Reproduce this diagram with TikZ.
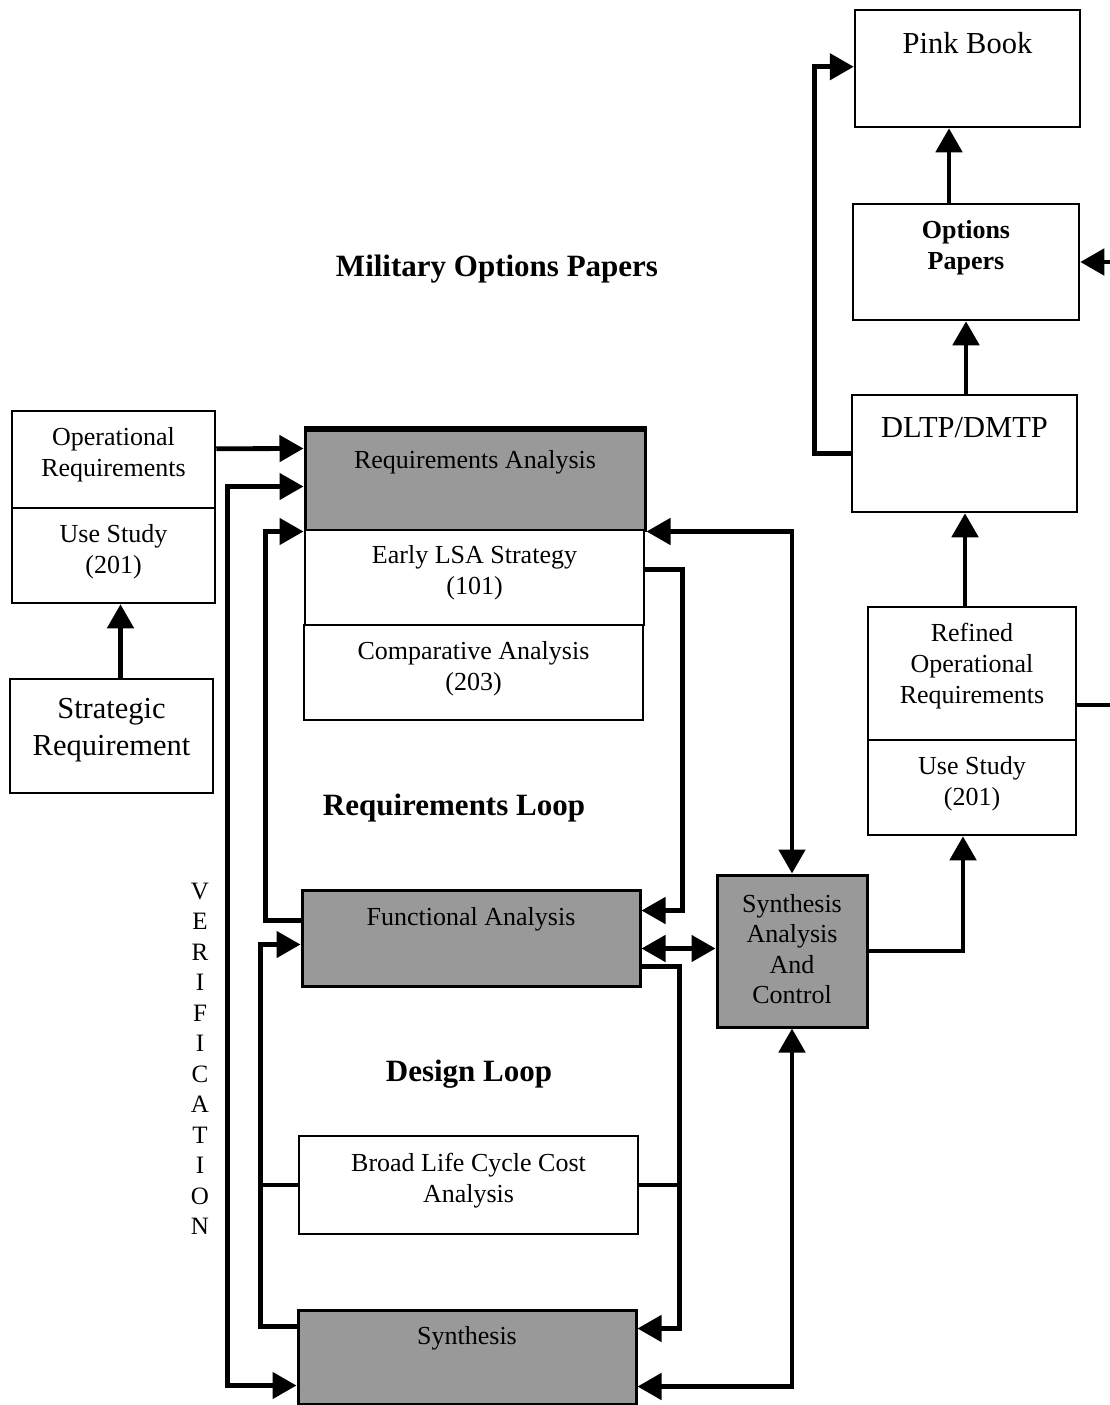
\documentclass[tikz,border=0pt]{standalone}
\usepackage{fontspec}
\setmainfont{Liberation Serif}
\usetikzlibrary{arrows.meta,calc}
\begin{document}
\begin{tikzpicture}[x=1pt,y=-1pt,
  box/.style={draw, line width=2.5pt, inner sep=0pt, fill=white},
  grayb/.style={draw, line width=3pt, inner sep=0pt, fill=black!40},
  conn/.style={line width=4.8pt, line join=miter},
  tip/.tip={Triangle[length=24pt,width=26pt]},
  arr/.style={conn, -tip},
  dbl/.style={conn, tip-tip},
  txt/.style={align=center, inner sep=0pt, font=\fontsize{26}{31}\selectfont},
  txtb/.style={align=center, inner sep=0pt, font=\bfseries\fontsize{26}{31}\selectfont},
  big/.style={align=center, inner sep=0pt, font=\fontsize{30.5}{37}\selectfont},
  bigb/.style={align=center, inner sep=0pt, font=\bfseries\fontsize{31}{37}\selectfont},
  ver/.style={align=center, inner sep=0pt, font=\fontsize{25}{30.5}\selectfont}
]
\useasboundingbox (0,0) rectangle (1110,1405);

% right column
\node[box, minimum width=225pt, minimum height=117pt] (pink) at (967.5,68.5) {};
\node[big] (pinkt) at (967.5,43) {Pink Book};
\node[box, minimum width=226pt, minimum height=116pt] (opt) at (966,262) {};
\node[txtb] (optt) at (966,248) {Options\\Papers};
\node[box, minimum width=225pt, minimum height=117pt] (dltp) at (964.5,453.5) {};
\node[big] (dltpt) at (964.5,428) {DLTP/DMTP};
\node[box, minimum width=208pt, minimum height=133pt] (ref) at (972,673.5) {};
\node[txt] (reft) at (972,666) {Refined\\Operational\\Requirements};
\node[box, minimum width=208pt, minimum height=95pt] (refu) at (972,787.5) {};
\node[txt] (refut) at (972,784) {Use Study\\(201)};

% left column
\node[box, minimum width=203pt, minimum height=97pt] (opr) at (113.5,459.5) {};
\node[txt] (oprt) at (113.5,455) {Operational\\Requirements};
\node[box, minimum width=203pt, minimum height=95pt] (opu) at (113.5,555.5) {};
\node[txt] (oput) at (113.5,552) {Use Study\\(201)};
\node[box, minimum width=203pt, minimum height=114pt] (strat) at (111.5,736) {};
\node[big] (stratt) at (111.5,730) {Strategic\\Requirement};

% centre column
\node[grayb, minimum width=340pt, minimum height=100pt] (reqa) at (475,480) {};
\draw[line width=5pt] (reqa.north west) -- (reqa.north east);
\node[txt] (reqat) at (475,462) {Requirements Analysis};
\node[box, minimum width=339pt, minimum height=95pt] (lsa) at (474.5,577.5) {};
\node[txt] (lsat) at (474.5,573) {Early LSA Strategy\\(101)};
\node[box, minimum width=339pt, minimum height=95pt] (comp) at (473.5,672.5) {};
\node[txt] (compt) at (473.5,669) {Comparative Analysis\\(203)};

\node[grayb, minimum width=338pt, minimum height=96pt] (fa) at (471,938) {};
\node[txt] (fat) at (471,919) {Functional Analysis};
\node[grayb, minimum width=150pt, minimum height=152pt] (sac) at (792,951) {};
\node[align=center, inner sep=0pt, font=\fontsize{26}{30.5}\selectfont] (sact) at (792,949) {Synthesis\\Analysis\\And\\Control};
\node[box, minimum width=339pt, minimum height=98pt] (blcc) at (468.5,1185) {};
\node[txt] (blcct) at (468.5,1181) {Broad Life Cycle Cost\\Analysis};
\node[grayb, minimum width=338pt, minimum height=94pt] (syn) at (467,1357) {};
\node[txt] (synt) at (467,1338) {Synthesis};

% free labels
\node[bigb] (mil) at (497,269) {Military Options Papers};
\node[bigb] (rloop) at (454,808) {Requirements Loop};
\node[bigb] (dloop) at (469,1074) {Design Loop};
\node[ver] (verif) at (200,1059) {V\\E\\R\\I\\F\\I\\C\\A\\T\\I\\O\\N};

% edge coordinates
\coordinate (edge1) at (1110,262);
\coordinate (edge2) at (1110,705);

% connectors
\draw[arr] ($(opr.north east)+(0,39)$) -- ($(reqa.north west)+(0,20)$);
\draw[arr] ($(strat.north)+(9,0)$) -- ($(opu.south)+(7,0)$);
\draw[dbl] ($(reqa.north west)+(0,58)$) -- ++(-76,0) |- ($(syn.north west)+(0,77)$);
\draw[arr] ($(fa.north west)+(0,32)$) -- ++(-35,0) |- (reqa.south west);
\draw[arr] ($(syn.north west)+(0,18)$) -- ++(-36,0) |- ($(fa.north west)+(0,56)$);
\draw[conn] (blcc.west) -- ++(-37,0);
\draw[arr] ($(lsa.north east)+(0,41)$) -- ++(37,0) |- ($(fa.north east)+(0,22)$);
\draw[dbl] (reqa.south east) -| (sac.north);
\draw[dbl] ($(fa.north east)+(0,60)$) -- ($(sac.north west)+(0,75)$);
\draw[arr] ($(fa.north east)+(0,78)$) -- ++(38,0) |- ($(syn.north east)+(0,20)$);
\draw[conn] (blcc.east) -- ++(40,0);
\draw[dbl] ($(syn.north east)+(0,78)$) -| (sac.south);
\draw[arr] (sac.east) -| ($(refu.south)+(-9,0)$);
\draw[arr] ($(ref.north)+(-7,0)$) -- ($(dltp.south)+(0.5,0)$);
\draw[arr] ($(dltp.north)+(1.5,0)$) -- (opt.south);
\draw[arr] ($(opt.north)+(-17,0)$) -- ($(pink.south)+(-18.5,0)$);
\draw[arr] (dltp.west) -- ++(-36,0) |- ($(pink.north west)+(0,58)$);
\draw[arr] (edge1) -- (opt.east);
\draw[conn] ($(ref.east)+(0,31.5)$) -- (edge2);
\end{tikzpicture}
\end{document}
